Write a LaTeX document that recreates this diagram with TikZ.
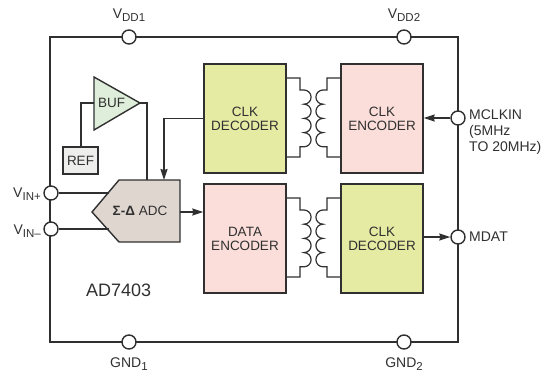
\documentclass[tikz,border=0pt]{standalone}
\usepackage{fontspec}
\setmainfont{Liberation Sans}
\usetikzlibrary{arrows.meta}
\definecolor{inkgray}{HTML}{303030}
\definecolor{decgreen}{HTML}{E5EBA3}
\definecolor{encpink}{HTML}{FBDEDA}
\definecolor{bufgreen}{HTML}{DFEEDA}
\definecolor{refgray}{HTML}{EEEEEC}
\definecolor{adcbrown}{HTML}{E0D6D0}
\newcommand{\pinsub}[1]{\raisebox{-3pt}{\fontsize{11.5}{12}\selectfont #1}}
\tikzset{
  wire/.style={draw=inkgray, line width=1.2pt},
  blockbox/.style={draw=inkgray, line width=1.4pt, minimum width=82pt, minimum height=109pt,
    inner sep=0pt, align=center, text=inkgray, font=\fontsize{13.5}{14}\selectfont},
  pin/.style={circle, draw=inkgray, fill=white, line width=1.4pt, minimum size=14pt, inner sep=0pt},
  lbl/.style={inner sep=0pt, text=inkgray, font=\fontsize{14}{16}\selectfont},
}
\begin{document}
\begin{tikzpicture}[x=1pt, y=-1pt, >={Stealth[length=11pt,width=7pt,inset=1pt]}]
  \useasboundingbox (0,0) rectangle (546,373);
  % package outline
  \node[draw=inkgray, line width=1.6pt, minimum width=408pt, minimum height=305pt, inner sep=0pt] (chip) at (254,189.5) {};
  % blocks
  \node[blockbox, fill=decgreen] (clkdec) at (245,118.5) {CLK\\DECODER};
  \node[blockbox, fill=encpink] (clkenc) at (382,118.5) {CLK\\ENCODER};
  \node[blockbox, fill=encpink] (dataenc) at (245,238.5) {DATA\\ENCODER};
  \node[blockbox, fill=decgreen] (clkdec2) at (382,238.5) {CLK\\DECODER};
  \node[blockbox, fill=refgray, minimum width=35pt, minimum height=27pt] (ref) at (80.5,160.5) {REF};
  % buffer and converter
  \draw[line width=1.4pt, draw=inkgray, fill=bufgreen] (94,77) coordinate (bufa) -- (140,103) coordinate (buftip)
    -- (94,130) coordinate (bufb) -- cycle;
  \node[lbl, font=\fontsize{13.5}{14}\selectfont] (buf) at (111.5,103) {BUF};
  \coordinate (bufin) at (94,103);
  \draw[line width=1.4pt, draw=inkgray, fill=adcbrown] (119,180) -- (180,180) -- (180,242) -- (119,242) -- (92,212) -- cycle;
  \node[lbl, font=\fontsize{13.5}{14}\selectfont] (adc) at (140,211) {\textbf{Σ-Δ} ADC};
  \coordinate (adcright) at (180,212);
  \coordinate (adctopa) at (147,180);
  \coordinate (adctopb) at (164,180);
  \coordinate (adcina) at (109,193);
  \coordinate (adcinb) at (109,229);
  % pins
  \node[pin] (vdda) at (129,37) {};
  \node[pin] (vddb) at (404,37) {};
  \node[pin] (gnda) at (129,342) {};
  \node[pin] (gndb) at (404,342) {};
  \node[pin] (vinp) at (51,193) {};
  \node[pin] (vinm) at (51,229) {};
  \node[pin] (mclk) at (458,118) {};
  \node[pin] (mdat) at (458,237) {};
  % connectors
  \draw[wire] (ref.north -| 81,0) |- (bufin);
  \draw[wire] (buftip) -| (adctopa);
  \draw[wire,->] (clkdec.west) -| (adctopb);
  \draw[wire] (vinp) -- (adcina);
  \draw[wire] (vinm) -- (adcinb);
  \draw[wire,->] (adcright) -- (dataenc.west |- adcright);
  \draw[wire,->] (mclk) -- (clkenc.east |- mclk);
  \draw[wire,->] (clkdec2.east |- mdat) -- (mdat);
  % transformers
  \foreach \dy in {0,120} {
    \draw[wire] (286,78+\dy) -- (300,78+\dy) -- (300,90+\dy) -- (304,90+\dy)
      arc[start angle=-90, end angle=90, radius=7.1] arc[start angle=-90, end angle=90, radius=7.1]
      arc[start angle=-90, end angle=90, radius=7.1] arc[start angle=-90, end angle=90, radius=7.1]
      -- (300,146.8+\dy) -- (300,157+\dy) -- (286,157+\dy);
    \draw[wire] (341,78+\dy) -- (327,78+\dy) -- (327,90+\dy) -- (323,90+\dy)
      arc[start angle=-90, end angle=-270, radius=7.1] arc[start angle=-90, end angle=-270, radius=7.1]
      arc[start angle=-90, end angle=-270, radius=7.1] arc[start angle=-90, end angle=-270, radius=7.1]
      -- (327,146.8+\dy) -- (327,157+\dy) -- (341,157+\dy);
  }
  % labels
  \node[lbl] (vddatxt) at (129,15) {V\pinsub{DD1}};
  \node[lbl] (vddbtxt) at (404,15) {V\pinsub{DD2}};
  \node[lbl] (gndatxt) at (129,364) {GND\pinsub{1}};
  \node[lbl] (gndbtxt) at (404,364) {GND\pinsub{2}};
  \node[lbl, anchor=east] (vinptxt) at (41,194) {V\pinsub{IN+}};
  \node[lbl, anchor=east] (vinmtxt) at (41,231) {V\pinsub{IN–}};
  \node[lbl, anchor=north west, align=left] (mclktxt) at (469,110) {MCLKIN\\(5MHz\\TO 20MHz)};
  \node[lbl, anchor=west] (mdattxt) at (469,237) {MDAT};
  \node[lbl, font=\fontsize{18}{20}\selectfont, anchor=west] (parttxt) at (86,290) {AD7403};
\end{tikzpicture}
\end{document}
